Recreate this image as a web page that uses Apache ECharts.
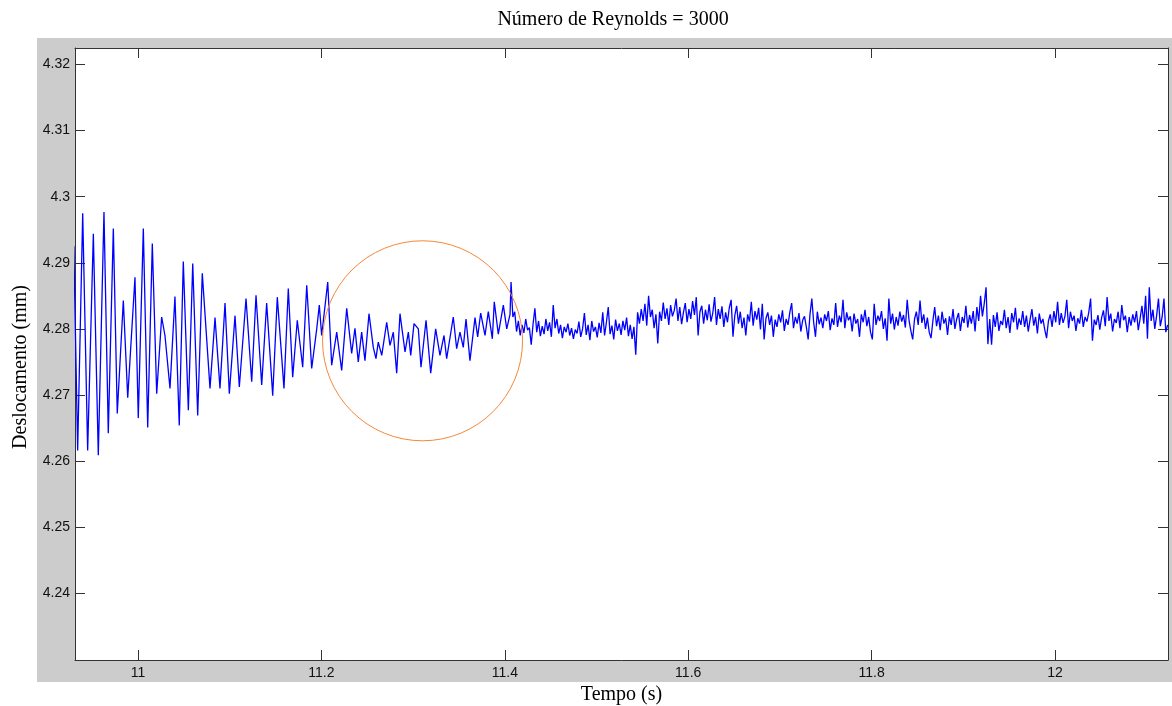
<!DOCTYPE html>
<html>
<head>
<meta charset="utf-8">
<script src="https://cdn.jsdelivr.net/npm/echarts@6/dist/echarts.min.js"></script>
<style>
html,body{margin:0;padding:0;background:#fff;}
#chart{width:1172px;height:706px;}
</style>
</head>
<body>
<div id="chart"></div>
<script>
// ---------- data ----------
const titleText = 'Número de Reynolds = 3000';
const xAxisName = 'Tempo (s)';
const yAxisName = 'Deslocamento (mm)';

const xRange = [10.9313, 12.1232];
const yRange = [4.2299, 4.3225];

const xTicks = [11, 11.2, 11.4, 11.6, 11.8, 12];
const xTickLabels = ['11', '11.2', '11.4', '11.6', '11.8', '12'];
const yTicks = [4.24, 4.25, 4.26, 4.27, 4.28, 4.29, 4.30, 4.31, 4.32];
const yTickLabels = ['4.24', '4.25', '4.26', '4.27', '4.28', '4.29', '4.3', '4.31', '4.32'];

// decaying oscillation (peaks / troughs)
const oscTime = [10.9300, 10.9342, 10.9397, 10.9451, 10.9513, 10.9567, 10.9629, 10.9676, 10.9731, 10.9774,
  10.9840, 10.9888, 10.9967, 11.0003, 11.0058, 11.0106, 11.0156, 11.0204, 11.0258, 11.0294,
  11.0349, 11.0403, 11.0450, 11.0494, 11.0549, 11.0597, 11.0651, 11.0701, 11.0785, 11.0840,
  11.0894, 11.0949, 11.0996, 11.1058, 11.1105, 11.1178, 11.1240, 11.1287, 11.1349, 11.1403,
  11.1469, 11.1519, 11.1592, 11.1639,
  11.1687, 11.1737, 11.1796, 11.1840, 11.1894, 11.1949, 11.1977, 11.2003, 11.2069, 11.2112,
  11.2167, 11.2221, 11.2276, 11.2330, 11.2366, 11.2402, 11.2439, 11.2475, 11.2519, 11.2566,
  11.2595, 11.2620, 11.2658, 11.2712, 11.2748, 11.2784, 11.2821, 11.2857, 11.2912, 11.2948,
  11.2974, 11.3010, 11.3057, 11.3086, 11.3141, 11.3192, 11.3246, 11.3293, 11.3337, 11.3366,
  11.3438, 11.3475, 11.3511, 11.3547, 11.3577, 11.3620, 11.3675, 11.3704, 11.3737, 11.3784,
  11.3820, 11.3864, 11.3885, 11.3929, 11.3984, 11.4021, 11.4057];
const oscDisp = [4.2925, 4.2616, 4.2975, 4.2616, 4.2944, 4.2609, 4.2977, 4.2642, 4.2952, 4.2672,
  4.2843, 4.2696, 4.2878, 4.2665, 4.2952, 4.2651, 4.2929, 4.2702, 4.2818, 4.2790,
  4.2710, 4.2849, 4.2654, 4.2902, 4.2677, 4.2899, 4.2669, 4.2884, 4.2710, 4.2817,
  4.2710, 4.2839, 4.2702, 4.2820, 4.2712, 4.2846, 4.2720, 4.2851, 4.2715, 4.2839,
  4.2699, 4.2848, 4.2710, 4.2861,
  4.2727, 4.2813, 4.2742, 4.2866, 4.2740, 4.2800, 4.2836, 4.2790, 4.2871, 4.2745,
  4.2795, 4.2737, 4.2831, 4.2763, 4.2801, 4.2750, 4.2795, 4.2752, 4.2823, 4.2772,
  4.2755, 4.2780, 4.2760, 4.2810, 4.2775, 4.2795, 4.2733, 4.2823, 4.2765, 4.2795,
  4.2760, 4.2808, 4.2800, 4.2742, 4.2813, 4.2733, 4.2800, 4.2760, 4.2790, 4.2755,
  4.2818, 4.2770, 4.2795, 4.2772, 4.2815, 4.2752, 4.2817, 4.2788, 4.2824, 4.2790,
  4.2826, 4.2785, 4.2841, 4.2792, 4.2836, 4.2800, 4.2822];

// noisy steady tail, sampled every tailStep seconds
const tailStart = 11.4068;
const tailStep = 0.002;
const tailDisp = [
  4.2871, 4.2818, 4.2826, 4.2796, 4.2812, 4.2790, 4.2806, 4.2794, 4.2815, 4.2798,
  4.2802, 4.2776, 4.2807, 4.2831, 4.2795, 4.2812, 4.2789, 4.2804, 4.2792, 4.2815,
  4.2797, 4.2810, 4.2788, 4.2836, 4.2801, 4.2815, 4.2793, 4.2806, 4.2786, 4.2803,
  4.2795, 4.2808, 4.2790, 4.2801, 4.2785, 4.2799, 4.2793, 4.2811, 4.2788, 4.2800,
  4.2824, 4.2791, 4.2806, 4.2783, 4.2812, 4.2796, 4.2803, 4.2787, 4.2809, 4.2794,
  4.2825, 4.2790, 4.2810, 4.2833, 4.2792, 4.2805, 4.2784, 4.2814, 4.2797, 4.2808,
  4.2791, 4.2812, 4.2798, 4.2817, 4.2789, 4.2806, 4.2785, 4.2803, 4.2761, 4.2825,
  4.2808, 4.2830, 4.2812, 4.2838, 4.2805, 4.2850, 4.2818, 4.2829, 4.2801, 4.2822,
  4.2778, 4.2826, 4.2812, 4.2840, 4.2815, 4.2831, 4.2806, 4.2836, 4.2819, 4.2828,
  4.2846, 4.2812, 4.2833, 4.2807, 4.2825, 4.2839, 4.2810, 4.2830, 4.2815, 4.2842,
  4.2821, 4.2848, 4.2790, 4.2826, 4.2835, 4.2808, 4.2829, 4.2813, 4.2837, 4.2811,
  4.2824, 4.2848, 4.2806, 4.2830, 4.2815, 4.2834, 4.2803, 4.2825, 4.2810, 4.2832,
  4.2844, 4.2788, 4.2820, 4.2835, 4.2808, 4.2826, 4.2801, 4.2817, 4.2790, 4.2822,
  4.2811, 4.2841, 4.2805, 4.2827, 4.2814, 4.2832, 4.2799, 4.2838, 4.2784, 4.2816,
  4.2825, 4.2806, 4.2820, 4.2788, 4.2814, 4.2803, 4.2822, 4.2810, 4.2828, 4.2797,
  4.2815, 4.2806, 4.2825, 4.2839, 4.2801, 4.2818, 4.2808, 4.2824, 4.2796, 4.2813,
  4.2819, 4.2803, 4.2784, 4.2822, 4.2846, 4.2810, 4.2788, 4.2826, 4.2807, 4.2817,
  4.2801, 4.2822, 4.2812, 4.2827, 4.2798, 4.2816, 4.2806, 4.2839, 4.2803, 4.2820,
  4.2810, 4.2844, 4.2801, 4.2825, 4.2813, 4.2819, 4.2796, 4.2823, 4.2808, 4.2815,
  4.2788, 4.2822, 4.2810, 4.2829, 4.2804, 4.2818, 4.2795, 4.2784, 4.2838, 4.2806,
  4.2820, 4.2812, 4.2827, 4.2800, 4.2816, 4.2782, 4.2846, 4.2808, 4.2823, 4.2799,
  4.2818, 4.2805, 4.2826, 4.2811, 4.2821, 4.2802, 4.2844, 4.2813, 4.2797, 4.2784,
  4.2815, 4.2826, 4.2806, 4.2843, 4.2809, 4.2822, 4.2800, 4.2817, 4.2795, 4.2786,
  4.2812, 4.2833, 4.2804, 4.2820, 4.2798, 4.2826, 4.2808, 4.2816, 4.2791, 4.2819,
  4.2806, 4.2830, 4.2800, 4.2815, 4.2824, 4.2797, 4.2818, 4.2809, 4.2835, 4.2802,
  4.2821, 4.2808, 4.2827, 4.2796, 4.2833, 4.2812, 4.2850, 4.2819, 4.2838, 4.2863,
  4.2777, 4.2815, 4.2776, 4.2821, 4.2803, 4.2825, 4.2797, 4.2812, 4.2806, 4.2829,
  4.2801, 4.2818, 4.2794, 4.2824, 4.2810, 4.2832, 4.2799, 4.2816, 4.2806, 4.2827,
  4.2803, 4.2820, 4.2796, 4.2814, 4.2830, 4.2805, 4.2818, 4.2793, 4.2823, 4.2808,
  4.2815, 4.2799, 4.2786, 4.2812, 4.2822, 4.2803, 4.2827, 4.2810, 4.2841, 4.2806,
  4.2824, 4.2809, 4.2819, 4.2844, 4.2801, 4.2826, 4.2812, 4.2820, 4.2797, 4.2816,
  4.2808, 4.2829, 4.2803, 4.2818, 4.2811, 4.2825, 4.2846, 4.2782, 4.2814, 4.2806,
  4.2821, 4.2799, 4.2817, 4.2828, 4.2804, 4.2848, 4.2812, 4.2823, 4.2796, 4.2815,
  4.2809, 4.2826, 4.2801, 4.2836, 4.2813, 4.2820, 4.2795, 4.2818, 4.2805, 4.2822,
  4.2810, 4.2827, 4.2798, 4.2816, 4.2835, 4.2808, 4.2850, 4.2785, 4.2863, 4.2812,
  4.2829, 4.2800, 4.2820, 4.2846, 4.2804, 4.2818, 4.2846, 4.2795, 4.2806];

// highlighted region (circle annotation), in data units
const circleCenter = [11.3103, 4.2782];

// ---------- build ----------
const seriesData = [];
for (let i = 0; i < Math.min(oscTime.length, oscDisp.length); i++) {
  seriesData.push([oscTime[i], oscDisp[i]]);
}
for (let i = 0; i < tailDisp.length; i++) {
  seriesData.push([+(tailStart + i * tailStep).toFixed(5), tailDisp[i]]);
}

function labelFor(ticks, labels) {
  return function (v) {
    for (let i = 0; i < ticks.length; i++) {
      if (Math.abs(ticks[i] - v) < 1e-7) return labels[i];
    }
    return '';
  };
}

const axisColor = '#333333';
const serif = 'Liberation Serif, Times New Roman, serif';
const labelFont = { color: '#111111', fontSize: 14, fontFamily: 'Liberation Sans, Arial, sans-serif' };

const chart = echarts.init(document.getElementById('chart'), null, { renderer: 'canvas' });

const option = {
  animation: false,
  backgroundColor: '#ffffff',
  title: {
    text: titleText,
    left: 608,
    top: 5,
    textAlign: 'center',
    textStyle: { color: '#000', fontSize: 20, fontWeight: 'normal', fontFamily: serif }
  },
  grid: { left: 75, top: 48, right: 4, bottom: 46, containLabel: false, outerBoundsMode: 'none' },
  xAxis: [
    {
      type: 'value', min: xRange[0], max: xRange[1], position: 'bottom',
      axisLine: { show: true, onZero: false, lineStyle: { color: axisColor, width: 1 } },
      axisTick: { show: true, inside: true, length: 10, customValues: xTicks, lineStyle: { color: axisColor } },
      axisLabel: Object.assign({ show: true, customValues: xTicks, margin: 6, formatter: labelFor(xTicks, xTickLabels) }, labelFont),
      splitLine: { show: false },
      name: xAxisName, nameLocation: 'middle', nameGap: 22,
      nameTextStyle: { color: '#000', fontSize: 20, fontFamily: serif }
    },
    {
      type: 'value', min: xRange[0], max: xRange[1], position: 'top',
      axisLine: { show: true, onZero: false, lineStyle: { color: axisColor, width: 1 } },
      axisTick: { show: true, inside: true, length: 10, customValues: xTicks, lineStyle: { color: axisColor } },
      axisLabel: { show: false },
      splitLine: { show: false }
    }
  ],
  yAxis: [
    {
      type: 'value', min: yRange[0], max: yRange[1], position: 'left',
      axisLine: { show: true, onZero: false, lineStyle: { color: axisColor, width: 1 } },
      axisTick: { show: true, inside: true, length: 10, customValues: yTicks, lineStyle: { color: axisColor } },
      axisLabel: Object.assign({ show: true, customValues: yTicks, margin: 5, formatter: labelFor(yTicks, yTickLabels) }, labelFont),
      splitLine: { show: false },
      name: yAxisName, nameLocation: 'middle', nameRotate: 90, nameGap: 44,
      nameTextStyle: { color: '#000', fontSize: 20, fontFamily: serif, padding: [0, 26, 0, 0] }
    },
    {
      type: 'value', min: yRange[0], max: yRange[1], position: 'right',
      axisLine: { show: true, onZero: false, lineStyle: { color: axisColor, width: 1 } },
      axisTick: { show: true, inside: true, length: 10, customValues: yTicks, lineStyle: { color: axisColor } },
      axisLabel: { show: false },
      splitLine: { show: false }
    }
  ],
  series: [
    {
      type: 'line',
      xAxisIndex: 0, yAxisIndex: 0,
      data: seriesData,
      showSymbol: false,
      symbol: 'none',
      clip: true,
      lineStyle: { color: '#0000ff', width: 1.3 },
      z: 3
    }
  ]
};
chart.setOption(option);

const gridRect = chart.getModel().getComponent('grid', 0).coordinateSystem.getRect();
const c = chart.convertToPixel({ xAxisIndex: 0, yAxisIndex: 0 }, circleCenter);

chart.setOption({
  graphic: [
    { id: 'frame', type: 'rect', z: -10, silent: true,
      shape: { x: 37, y: 38, width: 1135, height: 644 },
      style: { fill: '#cccccc' } },
    { id: 'plotbg', type: 'rect', z: -9, silent: true,
      shape: { x: gridRect.x, y: gridRect.y, width: gridRect.width, height: gridRect.height },
      style: { fill: '#ffffff' } },
    { id: 'ring', type: 'circle', z: 10, silent: true,
      shape: { cx: c[0], cy: c[1], r: 100 },
      style: { fill: null, stroke: '#f5883a', lineWidth: 1 } }
  ]
});
</script>
</body>
</html>
